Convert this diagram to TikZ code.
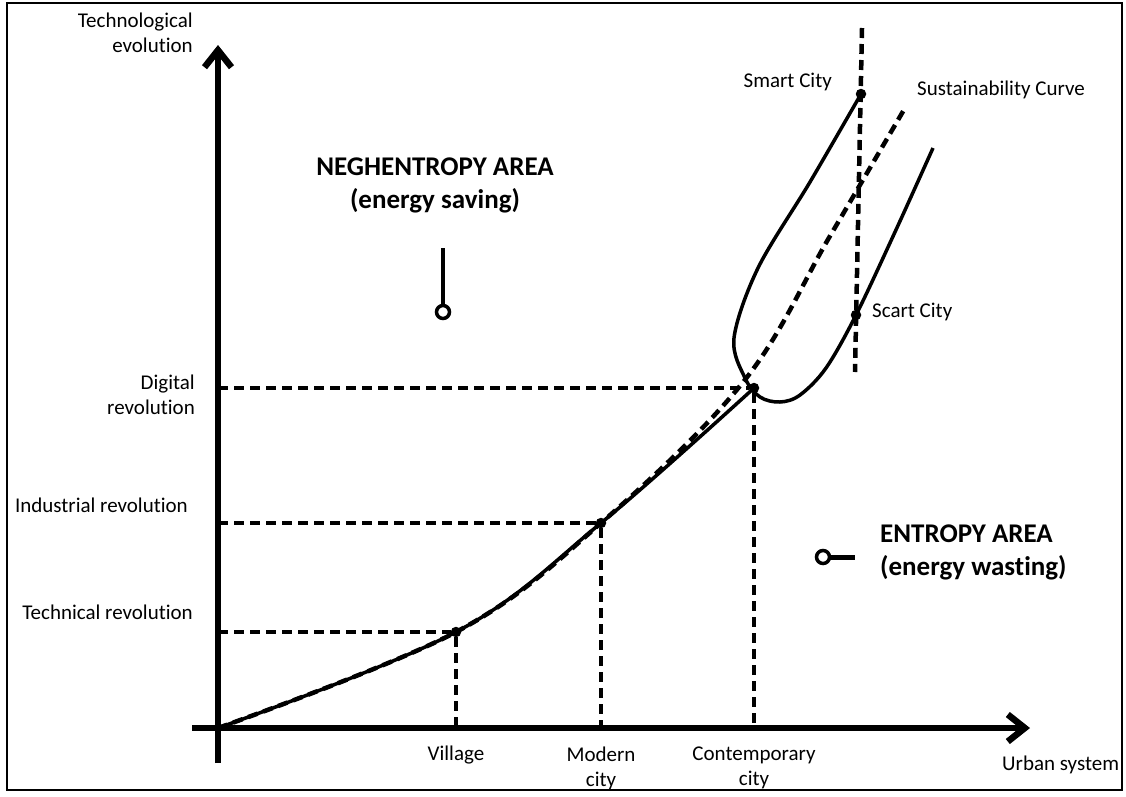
\documentclass[tikz,border=0pt]{standalone}
\usepackage{fontspec}
\setmainfont{Carlito}[Ligatures={NoCommon}]
\usetikzlibrary{arrows.meta}
\begin{document}
\begin{tikzpicture}[x=1pt,y=-1pt,
  lbl/.style={font=\fontsize{21}{25}\selectfont, inner sep=0pt},
  big/.style={font=\fontsize{27}{33}\selectfont\bfseries, inner sep=0pt, align=center},
  axis/.style={line width=6.5pt, -{Straight Barb[length=17pt,width=27pt]}},
  guide/.style={line width=4.5pt, dash pattern=on 10pt off 6pt},
  curve/.style={line width=3.5pt},
  dot/.style={circle, fill=black, inner sep=0pt, minimum size=10.5pt},
]
\useasboundingbox (0,0) rectangle (1126,796);
\draw[line width=2.5pt] (7,3) rectangle (1122,790);
% axes
\coordinate (O) at (218,728);
\coordinate (ytop) at (218,45);
\coordinate (ybot) at (218,763);
\coordinate (xleft) at (192,728);
\coordinate (xright) at (1030,728);
\draw[axis] (ybot) -- (ytop);
\draw[axis] (xleft) -- (xright);
% points
\node[dot] (vil) at (456,632) {};
\node[dot] (mod) at (601,523) {};
\node[dot] (con) at (754,388) {};
\node[dot] (smart) at (861,94) {};
\node[dot] (scart) at (856,315) {};
% guides
\draw[guide] (O |- vil) -- (vil);
\draw[guide] (vil) -- (vil |- O);
\draw[guide] (O |- mod) -- (mod);
\draw[guide] (mod) -- (mod |- O);
\draw[guide] (O |- con) -- (con);
\draw[guide] (con) -- (con |- O);
\coordinate (vtop) at (862,28);
\coordinate (vbot) at (855,372);
\draw[guide] (vtop) -- (vbot);
% curves
\draw[curve] plot[smooth, tension=0.6] coordinates {(O) (vil) (mod) (con)};
\coordinate (susend) at (905,108);
\draw[guide] plot[smooth, tension=0.6] coordinates {(O) (vil) (mod) (744,381) (830,236) (susend)};
\draw[curve] plot[smooth, tension=0.55] coordinates {(smart) (810,182) (758,268) (734,338) (745,378) (760,397) (780,402) (800,395) (826,368) (scart) (895,232) (933,148)};
% labels
\node[lbl, align=right, anchor=east] (techevo) at (193,33) {Technological\\evolution};
\node[lbl, align=right, anchor=east] (digrev) at (195,395) {Digital\\revolution};
\node[lbl, anchor=east] (indrev) at (188,505) {Industrial revolution};
\node[lbl, anchor=east] (tecrev) at (193,612) {Technical revolution};
\node[lbl] (village) at (456,755) {Village};
\node[lbl, align=center] (modern) at (601,768) {Modern\\city};
\node[lbl, align=center] (contemp) at (754,768) {Contemporary\\city};
\node[lbl, anchor=west] (urban) at (1002,765) {Urban system};
\node[lbl, anchor=east] (smartlbl) at (832,82) {Smart City};
\node[lbl, anchor=west] (suslbl) at (917,90) {Sustainability Curve};
\node[lbl, anchor=west] (scartlbl) at (872,312) {Scart City};
\node[big] (neg) at (435,185) {NEGHENTROPY AREA\\(energy saving)};
\node[big, align=left, anchor=west] (ent) at (880,552) {ENTROPY AREA\\(energy wasting)};
% symbols
\draw[line width=4pt] (443,248) -- (443,304);
\draw[line width=3.5pt] (443,312) circle (6.5pt);
\draw[line width=3.5pt] (823,557) circle (6.5pt);
\draw[line width=5pt] (830,557) -- (855,557);
\end{tikzpicture}
\end{document}
